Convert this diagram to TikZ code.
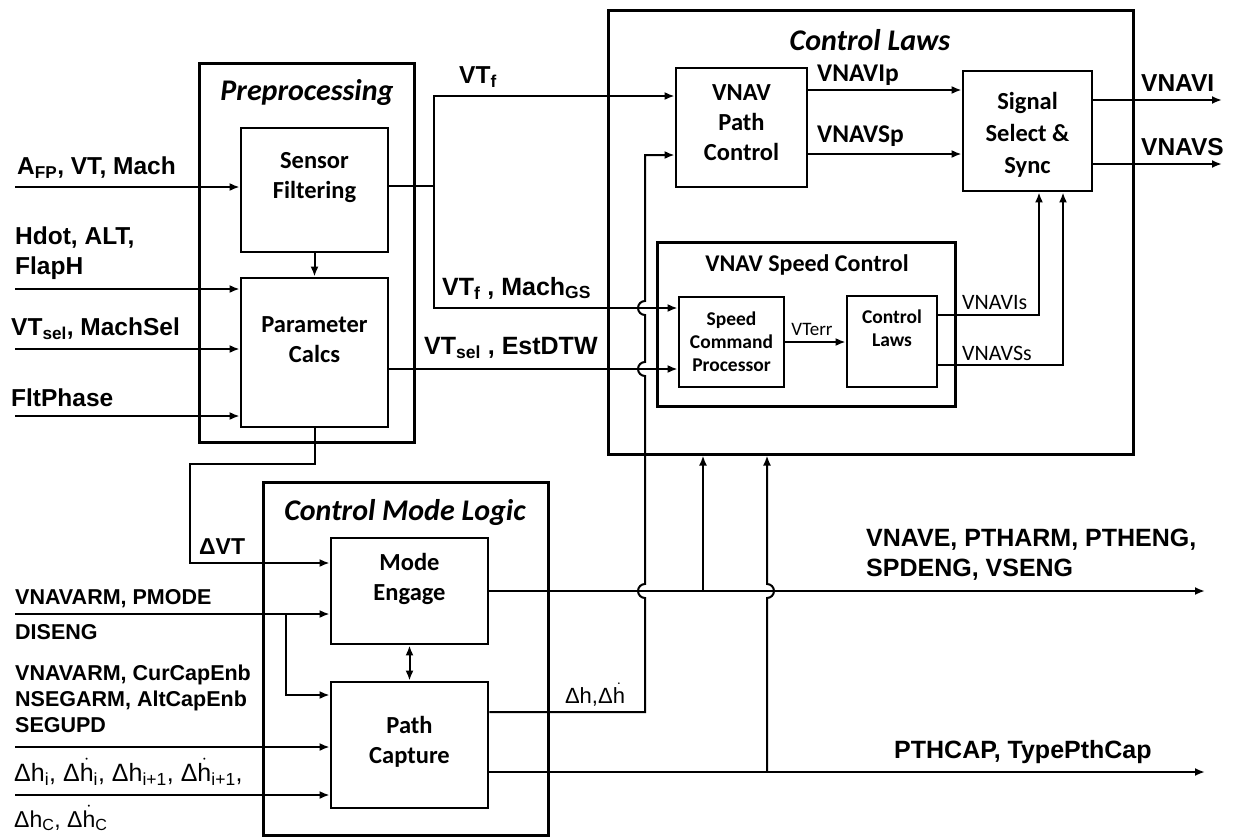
\documentclass[tikz,border=0pt]{standalone}
\usepackage{fontspec}
\setmainfont{Liberation Sans}
\newfontfamily\calfont{Carlito}
\usetikzlibrary{arrows.meta}
\newcommand\hdt{\ensuremath{\dot{\mbox{h}}}}
\begin{document}
\begin{tikzpicture}[x=1pt,y=-1pt,
  frame/.style={draw, line width=3pt, inner sep=0pt},
  blk/.style={draw, line width=2.8pt, inner sep=0pt},
  conn/.style={line width=2pt},
  arr/.style={conn, -{Latex[length=10pt,width=8pt]}},
  darr/.style={conn, {Latex[length=10pt,width=8pt]}-{Latex[length=10pt,width=8pt]}},
  blab/.style={font=\calfont\bfseries\fontsize{24.5}{30}\selectfont, align=center, inner sep=0pt},
  slab/.style={font=\calfont\bfseries\fontsize{19.5}{23}\selectfont, align=center, inner sep=0pt},
  ttl/.style={font=\calfont\bfseries\itshape\fontsize{30}{36}\selectfont, inner sep=0pt},
  inlab/.style={font=\bfseries\fontsize{24.5}{30}\selectfont, align=left, inner sep=0pt, anchor=west},
  lolab/.style={font=\bfseries\fontsize{21.5}{26.3}\selectfont, align=left, inner sep=0pt, anchor=west},
  outlab/.style={font=\bfseries\fontsize{25}{30}\selectfont, align=left, inner sep=0pt, anchor=west},
  dlab/.style={font=\fontsize{23}{26}\selectfont, inner sep=0pt, anchor=west},
  clab/.style={font=\calfont\fontsize{22}{26}\selectfont, inner sep=0pt, anchor=west},
  cblab/.style={font=\calfont\bfseries\fontsize{25.5}{30}\selectfont, inner sep=0pt, anchor=west}]
\useasboundingbox (0,0) rectangle (1234,838);
\fill[white] (0,0) rectangle (1234,838);

% frames
\node[frame, minimum width=215pt, minimum height=379pt] (prep) at (306.5,252.5) {};
\node[frame, minimum width=525pt, minimum height=444pt] (clw) at (870.5,232) {};
\node[frame, minimum width=285pt, minimum height=353pt] (cml) at (405.5,658.5) {};
\node[frame, minimum width=298pt, minimum height=164pt] (vsc) at (806,324) {};

\node[ttl] (prept) at (307,92) {Preprocessing};
\node[ttl] (clwt) at (870,40) {Control Laws};
\node[ttl] (cmlt) at (405,512) {Control Mode Logic};
\node[blab, font=\calfont\bfseries\fontsize{24}{30}\selectfont] (vsct) at (807,265) {VNAV Speed Control};

% blocks
\node[blk, minimum width=147pt, minimum height=124pt] (sf) at (314.5,190) {};
\node[blab] (sft) at (314.5,177.5) {Sensor\\Filtering};
\node[blk, minimum width=147pt, minimum height=149pt] (pc) at (314.5,352.5) {};
\node[blab] (pct) at (314.5,340) {Parameter\\Calcs};
\node[blk, minimum width=131pt, minimum height=119pt] (vpc) at (741.5,127.5) {};
\node[blab] (vpct) at (741.5,123) {VNAV\\Path\\Control};
\node[blk, minimum width=129pt, minimum height=120pt] (sss) at (1027.5,131) {};
\node[blab, font=\calfont\bfseries\fontsize{24.5}{32}\selectfont] (ssst) at (1027.5,135) {Signal\\Select \&\\Sync};
\node[blk, minimum width=105pt, minimum height=90pt] (scp) at (731.5,342) {};
\node[slab] (scpt) at (731.5,342) {Speed\\Command\\Processor};
\node[blk, minimum width=90pt, minimum height=91pt] (icl) at (892,341.5) {};
\node[slab] (iclt) at (892,328) {Control\\Laws};
\node[blk, minimum width=157pt, minimum height=106pt] (me) at (409.5,591) {};
\node[blab] (met) at (409.5,579) {Mode\\Engage};
\node[blk, minimum width=157pt, minimum height=126pt] (pcap) at (409.5,745) {};
\node[blab] (pcapt) at (409.5,742) {Path\\Capture};

% preprocessing inputs
\coordinate (i1) at (15,187);
\coordinate (i2) at (15,289);
\coordinate (i3) at (15,349);
\coordinate (i4) at (15,416);
\draw[arr] (i1) -- (i1 -| sf.west);
\draw[arr] (i2) -- (i2 -| pc.west);
\draw[arr] (i3) -- (i3 -| pc.west);
\draw[arr] (i4) -- (i4 -| pc.west);
\draw[arr] (sf.south) -- (pc.north);

\node[inlab] (l1) at (17,168) {A\textsubscript{FP}, VT, Mach};
\node[inlab] (l2) at (15,253) {Hdot, ALT,\\FlapH};
\node[inlab] (l3) at (11,329) {VT\textsubscript{sel}, MachSel};
\node[inlab] (l4) at (11,398) {FltPhase};

% sensor filtering outputs
\coordinate (j1) at (434,186);
\draw[conn] (j1 -| sf.east) -- (j1);
\draw[arr] (j1) |- ([yshift=31.5pt]vpc.west);
\draw[arr] (j1) |- ([yshift=34pt]scp.west);
\draw[arr] ([yshift=-16.5pt]pc.east) coordinate (p1) -- (p1 -| scp.west);

\node[inlab] (lvtf) at (459,77) {VT\textsubscript{f}};
\node[outlab] (lvtfm) at (442,288) {VT\textsubscript{f} , Mach\textsubscript{GS}};
\node[outlab] (lvts) at (424,348) {VT\textsubscript{sel} , EstDTW};

% delta VT
\coordinate (d1) at (190,464);
\draw[arr] (pc.south) |- (d1) |- ([yshift=28pt]me.west);
\node[inlab, font=\bfseries\fontsize{23}{26}\selectfont] (ldvt) at (199,547) {ΔVT};

% path control outputs
\path ([yshift=37.5pt]vpc.east) coordinate (o1) ([yshift=-26.5pt]vpc.east) coordinate (o2);
\draw[arr] (o1) -- (o1 -| sss.west);
\draw[arr] (o2) -- (o2 -| sss.west);
\node[cblab] (lvip) at (817,75) {VNAVIp};
\node[cblab] (lvsp) at (817,136) {VNAVSp};

% signal select outputs
\coordinate (e1) at (1222,100);
\coordinate (e2) at (1222,164);
\draw[arr] (e1 -| sss.east) -- (e1);
\draw[arr] (e2 -| sss.east) -- (e2);
\node[inlab] (lvi) at (1141,83) {VNAVI};
\node[inlab] (lvs) at (1141,147) {VNAVS};

% speed control internals
\draw[arr] (scp.east) -- (scp.east -| icl.west);
\node[font=\calfont\fontsize{19}{22}\selectfont, inner sep=0pt] (lvterr) at (812,329) {VTerr};
\path ([yshift=26.5pt]icl.east) coordinate (c1) ([yshift=-23.5pt]icl.east) coordinate (c2);
\draw[arr] (c1) -| ([xshift=11.5pt]sss.south);
\draw[arr] (c2) -| ([xshift=35.5pt]sss.south);
\node[clab] (lvis) at (962,303) {VNAVIs};
\node[clab] (lvss) at (962,353) {VNAVSs};

% control mode logic inputs
\coordinate (i5) at (15,614);
\coordinate (b1) at (286,614);
\coordinate (i6) at (15,747);
\coordinate (i7) at (15,795);
\draw[arr] (i5) -- (i5 -| me.west);
\draw[arr] (b1) |- ([yshift=50pt]pcap.west);
\draw[arr] (i6) -- (i6 -| pcap.west);
\draw[arr] (i7) -- (i7 -| pcap.west);
\draw[darr] (me.south) -- (pcap.north);

\node[lolab] (l5) at (15,599) {VNAVARM, PMODE};
\node[lolab] (l6) at (15,632) {DISENG};
\node[lolab] (l7) at (15,699) {VNAVARM, CurCapEnb\\NSEGARM, AltCapEnb\\SEGUPD};
\node[dlab, font=\fontsize{25}{28}\selectfont] (l8) at (14,772) {Δh\textsubscript{i}, Δ\hdt\textsubscript{i}, Δh\textsubscript{i+1}, Δ\hdt\textsubscript{i+1},};
\node[dlab] (l9) at (14,818) {Δh\textsubscript{C}, Δ\hdt\textsubscript{C}};

% mode engage output
\coordinate (e3) at (1205,591);
\coordinate (j2) at (703,591);
\draw[arr] (me.east) -- (e3);
\draw[arr] (j2) -- (j2 |- clw.south);
\node[outlab] (lve) at (866,555) {VNAVE, PTHARM, PTHENG,\\SPDENG, VSENG};

% path capture outputs
\path ([yshift=33pt]pcap.east) coordinate (q1) ([yshift=-27pt]pcap.east) coordinate (q2);
\coordinate (e4) at (1205,772);
\coordinate (j3) at (767,772);
\draw[arr] (q2) -- (e4);
\draw[arr] (j3) -- (767,598) arc[start angle=90, end angle=-90, radius=7] -- (j3 |- clw.south);
\draw[arr] (q1) -- (645,712) -- (645,598) arc[start angle=90, end angle=270, radius=7]
  -- (645,376) arc[start angle=90, end angle=270, radius=7]
  -- (645,315) arc[start angle=90, end angle=270, radius=7]
  -- (645,155) -- ([yshift=-27.5pt]vpc.west);
\node[font=\fontsize{22}{24}\selectfont, inner sep=0pt] (ldh) at (595,695) {Δh,Δ\hdt};
\node[outlab] (lpth) at (894,752) {PTHCAP, TypePthCap};
\end{tikzpicture}
\end{document}
